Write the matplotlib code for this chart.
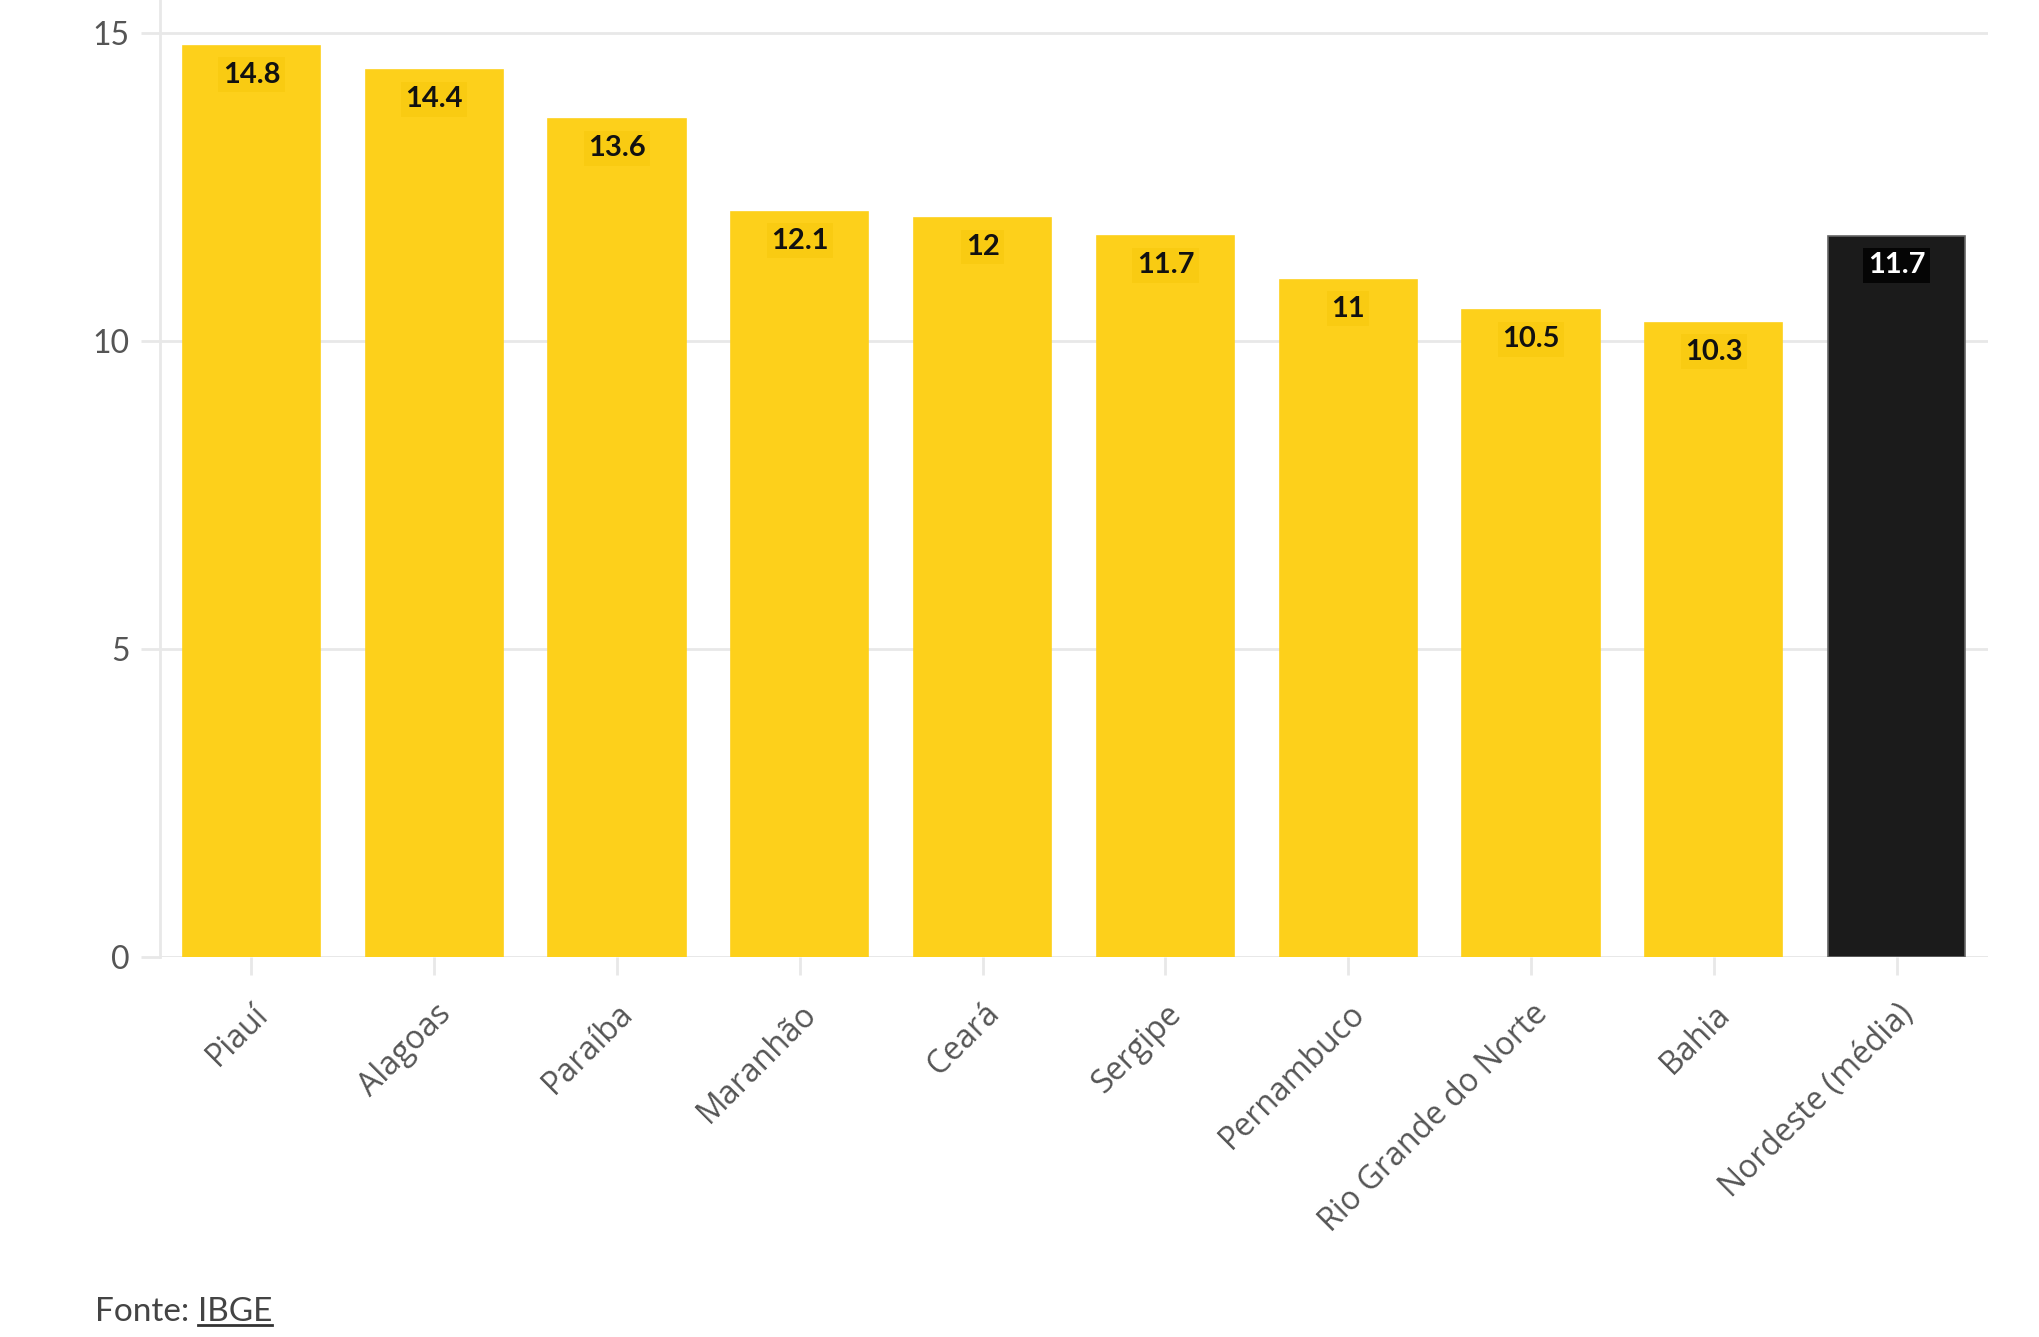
import matplotlib
matplotlib.use("Agg")
import matplotlib.pyplot as plt
from matplotlib.lines import Line2D

categories = ["Piauí", "Alagoas", "Paraíba", "Maranhão", "Ceará", "Sergipe",
              "Pernambuco", "Rio Grande do Norte", "Bahia", "Nordeste (média)"]
values = [14.8, 14.4, 13.6, 12.1, 12, 11.7, 11, 10.5, 10.3, 11.7]
value_labels = ["14.8", "14.4", "13.6", "12.1", "12", "11.7", "11", "10.5", "10.3", "11.7"]
yticks = [0, 5, 10, 15]
source_prefix = "Fonte: "
source_name = "IBGE"

YELLOW = "#FDD01B"
BLACK = "#1B1B1B"
GRID = "#E8E8E8"
TICKTXT = "#555555"

plt.rcParams["font.family"] = ["Lato", "DejaVu Sans"]

fig = plt.figure(figsize=(20.4, 13.37), dpi=100)
ax = fig.add_axes([160 / 2040, 1 - 957 / 1337, (1988 - 160) / 2040, 957 / 1337])

colors = [YELLOW] * (len(values) - 1) + [BLACK]
edges = [YELLOW] * (len(values) - 1) + ["#666666"]
x = list(range(len(values)))
bars = ax.bar(x, values, width=0.75, color=colors, edgecolor=edges, linewidth=1.2, zorder=3)

for xi, v, lab, c in zip(x, values, value_labels, colors):
    if c == BLACK:
        ax.text(xi, v - 0.47, lab, ha="center", va="center", fontsize=21, fontweight="bold",
                color="white", zorder=4,
                bbox=dict(boxstyle="square,pad=0.15", facecolor="#050505", edgecolor="none"))
    else:
        ax.text(xi, v - 0.47, lab, ha="center", va="center", fontsize=21, fontweight="bold",
                color="#111111", zorder=4,
                bbox=dict(boxstyle="square,pad=0.15", facecolor="#F9CB12", edgecolor="none"))

ax.set_xlim(-0.5, 9.5)
ax.set_ylim(0, 15.54)
ax.set_yticks(yticks)
ax.set_yticklabels([str(t) for t in yticks])
ax.yaxis.grid(True, color=GRID, linewidth=2, zorder=0)
ax.set_axisbelow(True)

ax.set_xticks(x)
ax.set_xticklabels(categories, rotation=45, ha="right", rotation_mode="anchor",
                   fontfamily=["Open Sans", "DejaVu Sans"])

for s in ["top", "right", "bottom"]:
    ax.spines[s].set_visible(False)
ax.spines["left"].set_color(GRID)
ax.spines["left"].set_linewidth(2)

ax.tick_params(axis="y", length=14, width=2, color=GRID, labelsize=23, labelcolor=TICKTXT, pad=8)
ax.tick_params(axis="x", length=13, width=2, color=GRID, labelsize=23, labelcolor=TICKTXT, pad=16)

# baseline gridline at zero
ax.axhline(0, color=GRID, linewidth=2, zorder=1)

t1 = fig.text(95 / 2040, 1 - 1312 / 1337, source_prefix, fontsize=24, color="#444444",
              ha="left", va="center")
fig.canvas.draw()
r = fig.canvas.get_renderer()
bb = t1.get_window_extent(renderer=r)
t2 = fig.text(bb.x1 / 2040, 1 - 1312 / 1337, source_name, fontsize=24, color="#444444",
              ha="left", va="center")
fig.canvas.draw()
bb2 = t2.get_window_extent(renderer=r)
yline = (bb2.y0 + 2) / 1337
fig.lines.append(Line2D([bb2.x0 / 2040, bb2.x1 / 2040], [yline, yline],
                        transform=fig.transFigure, color="#333333", linewidth=2))

fig.savefig("out.png", dpi=100)
